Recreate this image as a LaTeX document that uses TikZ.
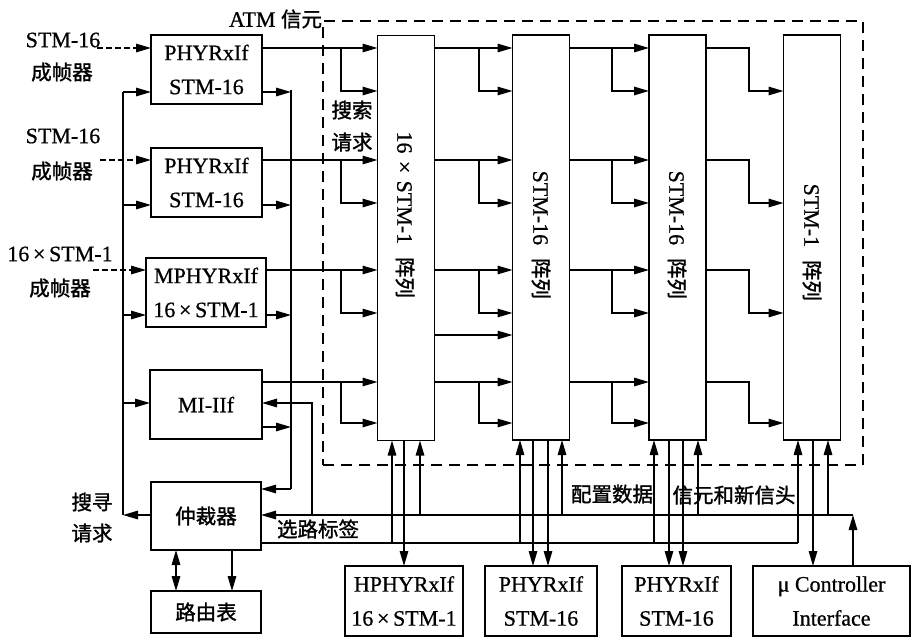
\documentclass[tikz,border=0pt]{standalone}
\usepackage{fontspec}
\setmainfont[FakeBold=0.7]{Liberation Serif}
\newfontfamily\cjkfont[FakeBold=1.4]{Noto Sans CJK SC}
\newcommand\zhtxt[1]{{\cjkfont\fontsize{20.5}{24}\selectfont #1}}
\usetikzlibrary{arrows.meta}
\begin{document}
\begin{tikzpicture}[x=1pt,y=-1pt,
  every node/.style={inner sep=0pt,outer sep=0pt,font=\fontsize{22}{34}\selectfont},
  box/.style={draw,line width=1.6pt,align=center},
  arrbox/.style={draw,line width=1.6pt,minimum width=57pt,minimum height=405pt},
  ln/.style={line width=1.4pt},
  ar/.style={ln,-{Triangle[length=15pt,width=8.5pt]}},
  dar/.style={ln,{Triangle[length=15pt,width=8.5pt]}-{Triangle[length=15pt,width=8.5pt]}},
  din/.style={ar,dash pattern=on 6pt off 3pt},
]
\useasboundingbox (0,0) rectangle (913,638);

% dashed frame
\node[draw,line width=1.4pt,dash pattern=on 11pt off 7pt,minimum width=540pt,minimum height=444pt] (atm) at (593,243) {};
\node[anchor=east] (atml) at (322,19) {ATM \zhtxt{信元}};

% left boxes
\node[box,minimum width=111pt,minimum height=69pt] (b1) at (206.5,69.5) {PHYRxIf\\STM-16};
\node[box,minimum width=111pt,minimum height=69pt] (b2) at (206.5,182.5) {PHYRxIf\\STM-16};
\node[box,minimum width=120pt,minimum height=69pt] (b3) at (206,292.5) {MPHYRxIf\\16\,×\,STM-1};
\node[box,minimum width=112pt,minimum height=69pt] (b4) at (206,404.5) {MI-IIf};
\node[box,minimum width=110pt,minimum height=68pt] (arb) at (206,516) {\zhtxt{仲裁器}};
\node[box,minimum width=110pt,minimum height=42pt] (rt) at (206,612) {\zhtxt{路由表}};

% arrays
\node[arrbox] (A1) at (406,238) {};
\node[arrbox] (A2) at (541,237.5) {};
\node[arrbox] (A3) at (677.5,237.5) {};
\node[arrbox] (A4) at (812,237.5) {};
\node[rotate=-90,anchor=east] (t1) at (405,298) {16\,\,×\,\,STM-1\,\, \zhtxt{阵列}};
\node[rotate=-90,anchor=east] (t2) at (541,299) {STM-16\,\, \zhtxt{阵列}};
\node[rotate=-90,anchor=east] (t3) at (677,299) {STM-16\,\, \zhtxt{阵列}};
\node[rotate=-90,anchor=east] (t4) at (812,301) {STM-1\,\, \zhtxt{阵列}};

% bottom boxes
\node[box,minimum width=118pt,minimum height=70pt] (hp) at (404,601) {HPHYRxIf\\16\,×\,STM-1};
\node[box,minimum width=112pt,minimum height=70pt] (p2) at (541,601) {PHYRxIf\\STM-16};
\node[box,minimum width=109pt,minimum height=70pt] (p3) at (676.5,601) {PHYRxIf\\STM-16};
\node[box,minimum width=157pt,minimum height=70pt] (uc) at (831.5,601) {μ Controller\\Interface};

% labels
\node (in1a) at (63,40) {STM-16};
\node (in1b) at (62,72) {\zhtxt{成帧器}};
\node (in2a) at (63,136) {STM-16};
\node (in2b) at (62,171) {\zhtxt{成帧器}};
\node (in3a) at (60,254) {16\,×\,STM-1};
\node (in3b) at (60,288) {\zhtxt{成帧器}};
\node (sq1) at (92,502) {\zhtxt{搜寻}};
\node (sq2) at (92,533) {\zhtxt{请求}};
\node (ss1) at (352,110) {\zhtxt{搜索}};
\node (ss2) at (352,142) {\zhtxt{请求}};
\node (lx) at (318,529) {\zhtxt{选路标签}};
\node (lp) at (612,494) {\zhtxt{配置数据}};
\node (lc) at (734,495) {\zhtxt{信元和新信头}};

% input dashed arrows
\coordinate (s1) at (97,48);
\coordinate (s2) at (100,160);
\coordinate (s3) at (93,270);
\draw[din] (s1) -- (b1.west |- s1);
\draw[din] (s2) -- (b2.west |- s2);
\draw[din] (s3) -- (b3.west |- s3);

% row levels
\coordinate (rA) at (0,48);  \coordinate (rbA) at (0,91);
\coordinate (rB) at (0,160); \coordinate (rbB) at (0,203);
\coordinate (rC) at (0,270); \coordinate (rbC) at (0,313);
\coordinate (rD) at (0,382); \coordinate (rbD) at (0,423);
\coordinate (rE) at (0,335);

% stage 0
\draw[ar] (b1.east |- rA) -- (A1.west |- rA);
\draw[ar] (b2.east |- rB) -- (A1.west |- rB);
\draw[ar] (b3.east |- rC) -- (A1.west |- rC);
\draw[ar] (b4.east |- rD) -- (A1.west |- rD);
\foreach \rw in {A,B,C,D}{
  \draw[ar] (341,0 |- r\rw) |- (A1.west |- rb\rw);
  \draw[ar] (A1.east |- r\rw) -- (A2.west |- r\rw);
  \draw[ar] (479,0 |- r\rw) |- (A2.west |- rb\rw);
  \draw[ar] (A2.east |- r\rw) -- (A3.west |- r\rw);
  \draw[ar] (612,0 |- r\rw) |- (A3.west |- rb\rw);
  \draw[ar] (A3.east |- r\rw) -| (749,0 |- rb\rw) -- (A4.west |- rb\rw);
}
\draw[ar] (A1.east |- rE) -- (A2.west |- rE);

% left bus
\coordinate (L1) at (123,92);
\coordinate (L2) at (123,205);
\coordinate (L3) at (123,315);
\coordinate (L4) at (123,403);
\coordinate (L5) at (123,515);
\draw[ln] (L1) -- (L5);
\draw[ar] (L1) -- (b1.west |- L1);
\draw[ar] (L2) -- (b2.west |- L2);
\draw[ar] (L3) -- (b3.west |- L3);
\draw[ar] (L4) -- (b4.west |- L4);
\draw[ar] (arb.west |- L5) -- (L5);

% right bus
\coordinate (R1) at (291,90);
\coordinate (R2) at (291,205);
\coordinate (R3) at (291,315);
\coordinate (R4) at (291,427);
\coordinate (R5) at (291,489);
\draw[ln] (R1) -- (R5);
\draw[ar] (b1.east |- 0,92) -- (R1 |- 0,92);
\draw[ar] (b2.east |- R2) -- (R2);
\draw[ar] (b3.east |- R3) -- (R3);
\draw[ar] (b4.east |- R4) -- (R4);
\draw[ar] (R5) -- (arb.east |- R5);

% bus 1 (configuration data)
\coordinate (B1R) at (853,515);
\coordinate (k4) at (828,515);
\coordinate (k3) at (698,515);
\coordinate (k2) at (562,515);
\coordinate (k1) at (420,515);
\coordinate (k0) at (312,515);
\draw[ar] (uc.north -| B1R) -- (B1R);
\draw[ar] (B1R) -- (arb.east |- B1R);
\draw[ar] (k4) -- (A4.south -| k4);
\draw[ar] (k3) -- (A3.south -| k3);
\draw[ar] (k2) -- (A2.south -| k2);
\draw[ar] (k1) -- (A1.south -| k1);
\draw[ar] (k0) |- (b4.east |- L4);

% bus 2 (cells and new headers)
\coordinate (m4) at (798,543);
\coordinate (m3) at (654,543);
\coordinate (m2) at (520,543);
\coordinate (m1) at (392,543);
\draw[ln] (arb.east |- m4) -- (m4);
\draw[ar] (m4) -- (A4.south -| m4);
\draw[ar] (m3) -- (A3.south -| m3);
\draw[ar] (m2) -- (A2.south -| m2);
\draw[ar] (m1) -- (A1.south -| m1);

% outputs down
\coordinate (d1) at (404,0);
\coordinate (d2a) at (533,0);
\coordinate (d2b) at (548,0);
\coordinate (d3a) at (669,0);
\coordinate (d3b) at (683,0);
\coordinate (d4) at (813,0);
\draw[ar] (A1.south -| d1) -- (hp.north -| d1);
\draw[ar] (A2.south -| d2a) -- (p2.north -| d2a);
\draw[ar] (A2.south -| d2b) -- (p2.north -| d2b);
\draw[ar] (A3.south -| d3a) -- (p3.north -| d3a);
\draw[ar] (A3.south -| d3b) -- (p3.north -| d3b);
\draw[ar] (A4.south -| d4) -- (uc.north -| d4);

% arbiter <-> routing table
\coordinate (e1) at (176,0);
\coordinate (e2) at (232,0);
\draw[dar] (arb.south -| e1) -- (rt.north -| e1);
\draw[ar] (arb.south -| e2) -- (rt.north -| e2);
\end{tikzpicture}
\end{document}
